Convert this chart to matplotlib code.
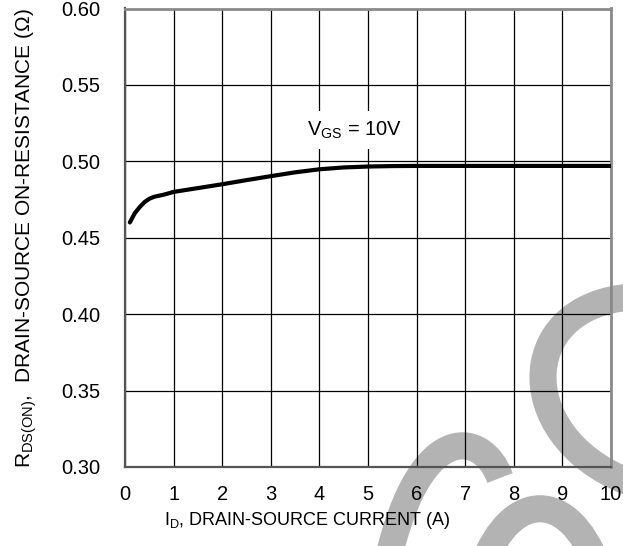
import matplotlib.pyplot as plt
import numpy as np
from matplotlib.path import Path
from matplotlib.patches import PathPatch
from matplotlib.transforms import Affine2D

plt.rcParams['font.family'] = ['Liberation Sans', 'DejaVu Sans']
plt.rcParams['mathtext.fontset'] = 'custom'
plt.rcParams['mathtext.rm'] = 'Liberation Sans'

# drain current (A) vs on-resistance (ohm) at VGS = 10V
current = [0.1, 0.2, 0.3, 0.4, 0.5, 0.6, 0.8, 1.0, 1.5, 2.0, 2.5, 3.0, 3.5, 4.0,
           4.5, 5.0, 5.5, 6.0, 7.0, 8.0, 9.0, 10.0]
rds_on = [0.460, 0.466, 0.470, 0.4733, 0.4755, 0.4768, 0.4782, 0.4800, 0.4825,
          0.4850, 0.4877, 0.4903, 0.4928, 0.4948, 0.4960, 0.4966, 0.4969, 0.4970,
          0.4970, 0.4970, 0.4970, 0.4970]

x_ticks = [0, 1, 2, 3, 4, 5, 6, 7, 8, 9, 10]
y_ticks = [0.30, 0.35, 0.40, 0.45, 0.50, 0.55, 0.60]
y_tick_labels = ["0.30", "0.35", "0.40", "0.45", "0.50", "0.55", "0.60"]

W, H = 623, 546
fig = plt.figure(figsize=(W / 100, H / 100), dpi=100, facecolor='white')
ax = fig.add_axes([125 / W, (H - 467) / H, (611 - 125) / W, (467 - 8.5) / H])
ax.set_facecolor('none')

# grey logo strokes behind the plot (pixel coords, y down)
px = Affine2D().scale(1 / 100, -1 / 100).translate(0, H / 100) + fig.dpi_scale_trans
logo = [
    [(632, 297), (512, 305), (512, 445), (640, 486)],
    [(500, 478), (482, 428), (415, 420), (385, 575)],
    [(483, 565), (512, 490), (568, 490), (597, 565)],
]
for pts in logo:
    path = Path(pts, [Path.MOVETO, Path.CURVE4, Path.CURVE4, Path.CURVE4])
    fig.add_artist(PathPatch(path, fill=False, edgecolor='#b3b3b3', lw=19.5,
                             capstyle='butt', transform=px, zorder=-1))

ax.plot(current, rds_on, color='black', lw=3, solid_capstyle='round', zorder=3)

ax.set_xlim(0, 10)
ax.set_ylim(0.30, 0.60)
ax.set_xticks(x_ticks)
ax.set_yticks(y_ticks)
ax.set_yticklabels(y_tick_labels)
ax.tick_params(length=0, labelsize=14.5)
ax.tick_params(axis='x', pad=13)
ax.tick_params(axis='y', pad=18)
ax.grid(True, color='black', lw=0.9)

for side in ['top', 'right']:
    ax.spines[side].set_color('#8a8a8a')
    ax.spines[side].set_linewidth(2)
for side in ['bottom', 'left']:
    ax.spines[side].set_color('#555555')
    ax.spines[side].set_linewidth(1.6)

ax.text(4.72, 0.5205, 'V$_{\\mathregular{GS}}$ = 10V', fontsize=14.5, ha='center', va='center',
        bbox=dict(facecolor='white', edgecolor='none', pad=6), zorder=4)

ax.set_xlabel('I$_{\\mathregular{D}}$, DRAIN-SOURCE CURRENT (A)', fontsize=13)
ax.xaxis.set_label_coords(0.375, -0.094)
ax.set_ylabel('R$_{\\mathregular{DS(ON)}}$,  DRAIN-SOURCE ON-RESISTANCE (\u03a9)', fontsize=15)
ax.yaxis.set_label_coords(-0.176, 0.5)

fig.savefig('out.png', dpi=100)
